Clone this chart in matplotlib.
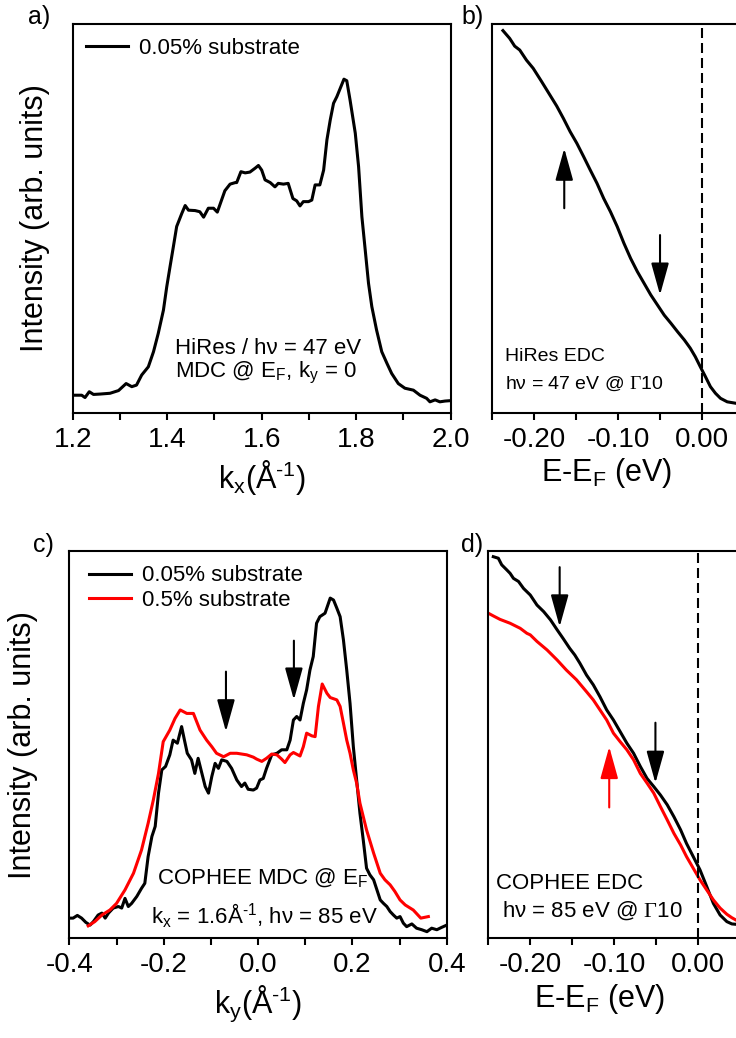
import matplotlib
matplotlib.use("Agg")
import matplotlib.pyplot as plt
from matplotlib.ticker import MultipleLocator, FormatStrFormatter

plt.rcParams["font.family"] = ["Liberation Sans", "DejaVu Sans"]
plt.rcParams["mathtext.fontset"] = "custom"
plt.rcParams["mathtext.rm"] = "Liberation Sans"
plt.rcParams["mathtext.it"] = "Liberation Sans:italic"
plt.rcParams["mathtext.tt"] = "Liberation Serif"
plt.rcParams["mathtext.default"] = "regular"
plt.rcParams["axes.unicode_minus"] = False

# a) HiRes MDC at E_F, ky = 0
kx_a = [1.201, 1.219, 1.226, 1.235, 1.244, 1.258, 1.279, 1.297, 1.313, 1.325,
        1.335, 1.346, 1.360, 1.371, 1.381, 1.392, 1.399, 1.406, 1.413, 1.420,
        1.431, 1.438, 1.445, 1.459, 1.469, 1.477, 1.487, 1.498, 1.506, 1.515,
        1.522, 1.533, 1.544, 1.547, 1.556, 1.565, 1.575, 1.586, 1.593, 1.600,
        1.607, 1.618, 1.628, 1.635, 1.646, 1.656, 1.666, 1.674, 1.681, 1.688,
        1.699, 1.706, 1.713, 1.723, 1.731, 1.738, 1.745, 1.752, 1.759, 1.766,
        1.774, 1.780, 1.787, 1.798, 1.805, 1.812, 1.819, 1.826, 1.833, 1.843,
        1.854, 1.865, 1.875, 1.889, 1.903, 1.921, 1.935, 1.949, 1.956, 1.967,
        1.977, 1.988, 1.999]
int_a = [0.045, 0.045, 0.039, 0.054, 0.047, 0.048, 0.050, 0.057, 0.075, 0.067,
         0.071, 0.097, 0.118, 0.157, 0.204, 0.264, 0.324, 0.376, 0.427, 0.479,
         0.513, 0.533, 0.521, 0.520, 0.517, 0.503, 0.526, 0.526, 0.516, 0.547,
         0.571, 0.588, 0.592, 0.592, 0.620, 0.617, 0.619, 0.629, 0.636, 0.624,
         0.599, 0.592, 0.581, 0.590, 0.588, 0.590, 0.551, 0.545, 0.532, 0.543,
         0.543, 0.547, 0.586, 0.586, 0.624, 0.702, 0.753, 0.796, 0.813, 0.834,
         0.858, 0.854, 0.804, 0.719, 0.633, 0.504, 0.419, 0.333, 0.273, 0.213,
         0.157, 0.127, 0.101, 0.075, 0.063, 0.058, 0.045, 0.037, 0.028, 0.033,
         0.028, 0.030, 0.031]

# b) HiRes EDC
e_b = [-0.237, -0.229, -0.223, -0.217, -0.209, -0.201, -0.191, -0.181, -0.173,
       -0.165, -0.157, -0.149, -0.141, -0.133, -0.125, -0.117, -0.109, -0.101,
       -0.093, -0.085, -0.077, -0.069, -0.061, -0.053, -0.045, -0.037, -0.029,
       -0.021, -0.014, -0.008, -0.002, 0.004, 0.010, 0.016, 0.022, 0.030, 0.041]
int_b = [0.983, 0.963, 0.943, 0.933, 0.907, 0.886, 0.852, 0.817, 0.789, 0.757,
         0.723, 0.693, 0.659, 0.624, 0.590, 0.551, 0.517, 0.479, 0.436, 0.397,
         0.363, 0.333, 0.303, 0.277, 0.251, 0.230, 0.208, 0.187, 0.166, 0.144,
         0.118, 0.093, 0.067, 0.050, 0.037, 0.028, 0.024]
arrows_b = [(-0.164, 0.526, 0.680), (-0.050, 0.457, 0.303)]  # (E, tail, tip)

# c) COPHEE MDC at E_F, kx = 1.6
ky_c1 = [-0.400, -0.392, -0.383, -0.374, -0.365, -0.356, -0.349, -0.339, -0.331,
         -0.324, -0.317, -0.307, -0.296, -0.289, -0.282, -0.275, -0.268, -0.257,
         -0.247, -0.240, -0.233, -0.225, -0.218, -0.211, -0.204, -0.196, -0.187,
         -0.180, -0.171, -0.162, -0.156, -0.150, -0.141, -0.134, -0.127, -0.119,
         -0.112, -0.105, -0.098, -0.091, -0.084, -0.077, -0.066, -0.056, -0.045,
         -0.035, -0.028, -0.021, -0.010, -0.003, 0.004, 0.011, 0.018, 0.029,
         0.040, 0.050, 0.061, 0.068, 0.075, 0.082, 0.089, 0.096, 0.103, 0.110,
         0.117, 0.124, 0.131, 0.142, 0.153, 0.160, 0.167, 0.174, 0.181, 0.188,
         0.195, 0.202, 0.209, 0.216, 0.223, 0.230, 0.237, 0.245, 0.252, 0.259,
         0.266, 0.273, 0.280, 0.287, 0.294, 0.301, 0.308, 0.315, 0.326, 0.336,
         0.347, 0.358, 0.368, 0.379, 0.389, 0.400]
int_c1 = [0.052, 0.052, 0.059, 0.052, 0.041, 0.034, 0.043, 0.060, 0.065, 0.052,
          0.065, 0.078, 0.082, 0.078, 0.103, 0.082, 0.090, 0.108, 0.129, 0.142,
          0.211, 0.263, 0.289, 0.375, 0.435, 0.444, 0.474, 0.512, 0.504, 0.547,
          0.512, 0.478, 0.461, 0.426, 0.465, 0.426, 0.392, 0.375, 0.418, 0.452,
          0.439, 0.461, 0.457, 0.439, 0.409, 0.392, 0.401, 0.385, 0.383, 0.388,
          0.409, 0.413, 0.439, 0.474, 0.478, 0.487, 0.487, 0.512, 0.564, 0.573,
          0.564, 0.607, 0.642, 0.693, 0.728, 0.814, 0.831, 0.840, 0.879, 0.874,
          0.853, 0.831, 0.771, 0.693, 0.607, 0.495, 0.409, 0.323, 0.254, 0.181,
          0.164, 0.151, 0.125, 0.099, 0.090, 0.082, 0.069, 0.060, 0.052, 0.056,
          0.039, 0.030, 0.037, 0.026, 0.022, 0.017, 0.026, 0.022, 0.028, 0.034]
ky_c2 = [-0.360, -0.346, -0.331, -0.314, -0.300, -0.282, -0.264, -0.247, -0.233,
         -0.222, -0.211, -0.201, -0.187, -0.176, -0.165, -0.151, -0.137, -0.123,
         -0.109, -0.098, -0.088, -0.073, -0.059, -0.045, -0.024, -0.010, -0.003,
         0.008, 0.018, 0.029, 0.040, 0.050, 0.057, 0.068, 0.075, 0.089, 0.096,
         0.103, 0.114, 0.121, 0.128, 0.136, 0.146, 0.153, 0.167, 0.174, 0.181,
         0.188, 0.195, 0.202, 0.209, 0.216, 0.230, 0.245, 0.259, 0.269, 0.280,
         0.290, 0.301, 0.312, 0.329, 0.345, 0.361]
int_c2 = [0.032, 0.043, 0.060, 0.073, 0.090, 0.125, 0.168, 0.228, 0.297, 0.357,
          0.426, 0.508, 0.538, 0.568, 0.590, 0.581, 0.581, 0.538, 0.512, 0.495,
          0.478, 0.469, 0.478, 0.478, 0.474, 0.468, 0.463, 0.457, 0.465, 0.476,
          0.474, 0.463, 0.454, 0.474, 0.480, 0.471, 0.495, 0.530, 0.523, 0.521,
          0.599, 0.657, 0.633, 0.622, 0.616, 0.599, 0.556, 0.512, 0.478, 0.435,
          0.401, 0.349, 0.280, 0.220, 0.168, 0.151, 0.138, 0.121, 0.099, 0.086,
          0.073, 0.052, 0.056]
arrows_c = [(-0.068, 0.689, 0.534), (0.076, 0.769, 0.616)]

# d) COPHEE EDC
e_d1 = [-0.244, -0.238, -0.234, -0.228, -0.224, -0.220, -0.214, -0.208, -0.200,
        -0.192, -0.184, -0.176, -0.168, -0.161, -0.153, -0.147, -0.141, -0.133,
        -0.125, -0.117, -0.109, -0.101, -0.093, -0.085, -0.077, -0.069, -0.061,
        -0.053, -0.045, -0.037, -0.029, -0.021, -0.014, -0.006, 0.002, 0.010,
        0.018, 0.026, 0.034, 0.040, 0.045]
int_d1 = [0.986, 0.982, 0.965, 0.952, 0.943, 0.930, 0.922, 0.904, 0.887, 0.861,
          0.844, 0.823, 0.797, 0.775, 0.749, 0.732, 0.711, 0.680, 0.655, 0.624,
          0.590, 0.564, 0.534, 0.504, 0.478, 0.444, 0.413, 0.392, 0.370, 0.345,
          0.314, 0.280, 0.245, 0.211, 0.177, 0.134, 0.090, 0.060, 0.043, 0.037,
          0.036]
e_d2 = [-0.250, -0.244, -0.236, -0.224, -0.212, -0.204, -0.200, -0.192, -0.180,
        -0.168, -0.157, -0.145, -0.133, -0.125, -0.117, -0.109, -0.101, -0.093,
        -0.085, -0.077, -0.069, -0.061, -0.053, -0.045, -0.037, -0.029, -0.021,
        -0.014, -0.006, 0.002, 0.010, 0.018, 0.026, 0.034, 0.040, 0.045]
int_d2 = [0.840, 0.833, 0.824, 0.814, 0.801, 0.788, 0.784, 0.767, 0.745, 0.719,
          0.693, 0.668, 0.637, 0.616, 0.590, 0.564, 0.530, 0.508, 0.487, 0.461,
          0.426, 0.401, 0.375, 0.340, 0.306, 0.271, 0.241, 0.211, 0.181, 0.151,
          0.125, 0.099, 0.078, 0.062, 0.053, 0.047]
arrows_d = [(-0.165, 0.959, 0.805, "black"), (-0.051, 0.557, 0.401, "black"),
            (-0.106, 0.338, 0.495, "red")]

LW = 2.2
SPINE = 1.5
TICKSIZE = 20
LABELSIZE = 22


def style_axes(ax, xlim, major, minor, fmt):
    ax.set_xlim(*xlim)
    ax.set_ylim(0, 1)
    ax.set_yticks([])
    ax.xaxis.set_major_locator(MultipleLocator(major))
    ax.xaxis.set_minor_locator(MultipleLocator(minor))
    ax.xaxis.set_major_formatter(FormatStrFormatter(fmt))
    ax.tick_params(axis="x", which="both", direction="out", length=5,
                   width=SPINE, labelsize=TICKSIZE, pad=5)
    for sp in ax.spines.values():
        sp.set_linewidth(SPINE)


def arrow(ax, x, tail, tip, color="black"):
    ax.annotate("", xy=(x, tip), xytext=(x, tail),
                arrowprops=dict(arrowstyle="-|>,head_length=0.9,head_width=0.25",
                                mutation_scale=22, lw=1.5, color=color,
                                shrinkA=0, shrinkB=0))


fig = plt.figure(figsize=(7.36, 10.38), dpi=100)

ax_a = fig.add_axes([0.0988, 0.6024, 0.5136, 0.3745])
ax_b = fig.add_axes([0.6685, 0.6024, 0.3424, 0.3745])
ax_c = fig.add_axes([0.0942, 0.0961, 0.5128, 0.3728])
ax_d = fig.add_axes([0.6634, 0.0961, 0.3424, 0.3728])

# panel a
ax_a.plot(kx_a, int_a, color="black", lw=LW, label="0.05% substrate")
style_axes(ax_a, (1.2, 2.0), 0.2, 0.1, "%.1f")
ax_a.set_xlabel("k$_x$(Å$^{\u20101}$)", fontsize=LABELSIZE)
ax_a.set_ylabel("Intensity (arb. units)", fontsize=LABELSIZE)
ax_a.yaxis.set_label_coords(-0.060, 0.5)
ax_a.legend(loc="center left", bbox_to_anchor=(0.035, 0.938), frameon=False,
            fontsize=16, handlelength=1.9, handletextpad=0.5, borderpad=0,
            borderaxespad=0)
ax_a.text(0.271, 0.166, "HiRes / hν = 47 eV", transform=ax_a.transAxes,
          fontsize=16, va="center")
ax_a.text(0.271, 0.102, r"MDC @ E$_F$, k$_y$ = 0", transform=ax_a.transAxes,
          fontsize=16, va="center")

# panel b
ax_b.plot(e_b, int_b, color="black", lw=LW)
ax_b.axvline(0.0, color="black", lw=1.5, dashes=(4.8, 2.4))
style_axes(ax_b, (-0.25, 0.05), 0.1, 0.05, "%.2f")
ax_b.set_xlabel(r"E-E$_F$ (eV)", fontsize=LABELSIZE)
ax_b.xaxis.set_label_coords(0.456, -0.112)
for x, tail, tip in arrows_b:
    arrow(ax_b, x, tail, tip)
ax_b.text(0.05, 0.145, "HiRes EDC", transform=ax_b.transAxes, fontsize=14,
          va="center")
ax_b.text(0.05, 0.075, r"hν = 47 eV @ $\mathtt{\Gamma}$10",
          transform=ax_b.transAxes, fontsize=14, va="center")

# panel c
ax_c.plot(ky_c1, int_c1, color="black", lw=LW, label="0.05% substrate")
ax_c.plot(ky_c2, int_c2, color="red", lw=LW, label="0.5% substrate")
style_axes(ax_c, (-0.4, 0.4), 0.2, 0.1, "%.1f")
ax_c.set_xlabel("k$_y$(Å$^{\u20101}$)", fontsize=LABELSIZE)
ax_c.set_ylabel("Intensity (arb. units)", fontsize=LABELSIZE)
ax_c.yaxis.set_label_coords(-0.083, 0.5)
ax_c.legend(loc="center left", bbox_to_anchor=(0.052, 0.905), frameon=False,
            fontsize=16, handlelength=1.9, handletextpad=0.5, borderpad=0,
            borderaxespad=0, labelspacing=0.15)
for x, tail, tip in arrows_c:
    arrow(ax_c, x, tail, tip)
ax_c.text(0.232, 0.155, r"COPHEE MDC @ E$_F$", transform=ax_c.transAxes,
          fontsize=16, va="center")
ax_c.text(0.216, 0.058, "k$_x$ = 1.6Å$^{\u20101}$, hν = 85 eV",
          transform=ax_c.transAxes, fontsize=16, va="center")

# panel d
ax_d.plot(e_d1, int_d1, color="black", lw=LW)
ax_d.plot(e_d2, int_d2, color="red", lw=LW)
ax_d.axvline(0.0, color="black", lw=1.5, dashes=(4.8, 2.4))
style_axes(ax_d, (-0.25, 0.05), 0.1, 0.05, "%.2f")
ax_d.set_xlabel(r"E-E$_F$ (eV)", fontsize=LABELSIZE)
ax_d.xaxis.set_label_coords(0.443, -0.112)
for x, tail, tip, col in arrows_d:
    arrow(ax_d, x, tail, tip, col)
ax_d.text(0.03, 0.142, "COPHEE EDC", transform=ax_d.transAxes, fontsize=16,
          va="center")
ax_d.text(0.055, 0.07, r"hν = 85 eV @ $\mathtt{\Gamma}$10",
          transform=ax_d.transAxes, fontsize=16, va="center")

# panel letters
fig.text(28 / 736, 1 - 17 / 1038, "a)", fontsize=18, va="center")
fig.text(461 / 736, 1 - 17 / 1038, "b)", fontsize=18, va="center")
fig.text(33 / 736, 1 - 545 / 1038, "c)", fontsize=18, va="center")
fig.text(461 / 736, 1 - 545 / 1038, "d)", fontsize=18, va="center")

fig.savefig("out.png", dpi=100)
